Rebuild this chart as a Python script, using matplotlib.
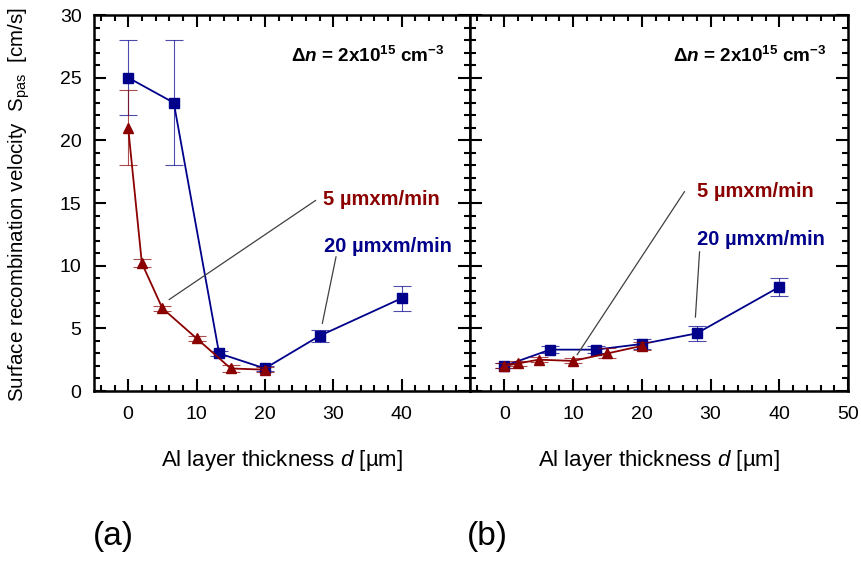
import matplotlib.pyplot as plt
from matplotlib.ticker import MultipleLocator

plt.rcParams['font.family'] = ['Liberation Sans', 'DejaVu Sans']
plt.rcParams['mathtext.fontset'] = 'custom'
plt.rcParams['mathtext.rm'] = 'Liberation Sans'
plt.rcParams['mathtext.it'] = 'Liberation Sans:italic'
plt.rcParams['mathtext.bf'] = 'Liberation Sans:bold'
plt.rcParams['mathtext.bfit'] = 'Liberation Sans:italic:bold'

# (a) deposition series
a_x20 = [0, 6.67, 13.3, 20, 28, 40]
a_y20 = [25, 23, 3.0, 1.8, 4.4, 7.4]
a_e20 = [3, 5, 0.2, 0.2, 0.5, 1.0]
a_x5 = [0, 2, 5, 10, 15, 20]
a_y5 = [21, 10.2, 6.6, 4.2, 1.8, 1.7]
a_e5 = [3, 0.3, 0.2, 0.2, 0.3, 0.2]

# (b)
b_x20 = [0, 6.67, 13.3, 20, 28, 40]
b_y20 = [2.0, 3.3, 3.3, 3.75, 4.6, 8.3]
b_e20 = [0.2, 0.3, 0.3, 0.4, 0.6, 0.7]
b_x5 = [0, 2, 5, 10, 15, 20]
b_y5 = [2.0, 2.2, 2.5, 2.4, 3.0, 3.6]
b_e5 = [0.2, 0.2, 0.2, 0.2, 0.4, 0.3]

blue = '#00008b'
red = '#8b0000'
lbl5 = '5 µmxm/min'
lbl20 = '20 µmxm/min'
dn = r'Δ$\mathbfit{n}$ = 2x10$^{\mathbf{15}}$ cm$^{\mathbf{-3}}$'

fig = plt.figure(figsize=(8.61, 5.63), dpi=100)
ax1 = fig.add_axes([94/861, 1-391/563, 376/861, 376/563])
ax2 = fig.add_axes([470/861, 1-391/563, 378/861, 376/563])


def serie(ax, x, y, e, col, mk, ms):
    ax.errorbar(x, y, yerr=e, fmt='none', ecolor=col, elinewidth=0.8,
                capsize=6.5, capthick=0.8, alpha=0.7)
    ax.plot(x, y, color=col, lw=1.3, marker=mk, ms=ms, mec=col, mfc=col)


for ax in (ax1, ax2):
    ax.set_xlim(-5, 50)
    ax.set_ylim(0, 30)
    ax.xaxis.set_major_locator(MultipleLocator(10))
    ax.xaxis.set_minor_locator(MultipleLocator(2))
    ax.yaxis.set_major_locator(MultipleLocator(5))
    ax.yaxis.set_minor_locator(MultipleLocator(1))
    ax.tick_params(which='both', direction='in', top=True, right=True,
                   width=1.5, labelsize=14)
    ax.tick_params(which='major', length=8.5)
    ax.tick_params(which='minor', length=4.3)
    ax.tick_params(axis='x', pad=11)
    ax.tick_params(axis='y', pad=9)
    for s in ax.spines.values():
        s.set_linewidth(1.8)
    ax.set_xlabel(r'Al layer thickness $\mathit{d}$ [µm]', fontsize=16)
    ax.xaxis.set_label_coords(0.5, -0.152)

serie(ax1, a_x20, a_y20, a_e20, blue, 's', 6.7)
serie(ax1, a_x5, a_y5, a_e5, red, '^', 7.7)
serie(ax2, b_x20, b_y20, b_e20, blue, 's', 6.7)
serie(ax2, b_x5, b_y5, b_e5, red, '^', 7.7)

ax1.set_xticks([0, 10, 20, 30, 40])
ax1.set_xticks([t for t in range(-4, 50, 2) if t % 10], minor=True)
ax2.set_xticks([0, 10, 20, 30, 40, 50])
ax2.set_yticklabels([])
ax1.set_ylabel(r'Surface recombination velocity  S$_{\mathregular{pas}}$  [cm/s]',
               fontsize=14.8)
ax1.yaxis.set_label_coords(-0.165, 0.495)

# labels and pointer lines
gray = '#404040'
ax1.text(46.3, 26.7, dn, ha='right', va='center', fontsize=13.6, fontweight='bold')
ax1.plot([6.0, 27.4], [7.3, 15.2], color=gray, lw=0.9)
ax1.text(28.5, 15.3, lbl5, color=red, fontsize=14.5, fontweight='bold', va='center')
ax1.plot([30.4, 28.4], [10.7, 5.4], color=gray, lw=0.9)
ax1.text(28.6, 11.5, lbl20, color=blue, fontsize=14.5, fontweight='bold', va='center')

ax2.text(46.9, 26.7, dn, ha='right', va='center', fontsize=13.6, fontweight='bold')
ax2.plot([10.6, 26.2], [2.9, 15.9], color=gray, lw=0.9)
ax2.text(28.0, 15.9, lbl5, color=red, fontsize=14.5, fontweight='bold', va='center')
ax2.plot([27.8, 28.4], [5.9, 11.1], color=gray, lw=0.9)
ax2.text(28.1, 12.1, lbl20, color=blue, fontsize=14.5, fontweight='bold', va='center')

fig.text(93/861, 1-537/563, '(a)', fontsize=24, va='center')
fig.text(467/861, 1-537/563, '(b)', fontsize=24, va='center')

fig.savefig('out.png', dpi=100)
